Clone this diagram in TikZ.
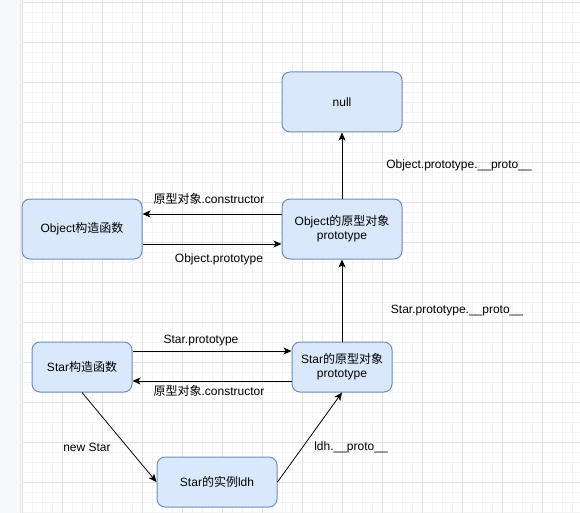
\documentclass[tikz,border=0pt]{standalone}
\usepackage{fontspec}
\setmainfont{Liberation Sans}
\newfontfamily\cjk{Noto Sans CJK SC}
\usetikzlibrary{arrows.meta}
\definecolor{boxfill}{HTML}{DAE8FC}
\definecolor{boxline}{HTML}{6C8EBF}
\definecolor{gridmin}{HTML}{F3F3F3}
\definecolor{gridmaj}{HTML}{E2E2E2}
\definecolor{strip}{HTML}{F7F8FA}
\definecolor{stripline}{HTML}{E6E7E9}
\begin{document}
\begin{tikzpicture}[x=1pt,y=-1pt,
  box/.style={draw=boxline,fill=boxfill,rounded corners=8pt,line width=1pt,inner sep=0pt,align=center,font=\fontsize{12pt}{14pt}\selectfont},
  lbl/.style={font=\fontsize{12pt}{14pt}\selectfont,inner sep=0pt},
  conn/.style={line width=1pt,-{Stealth[length=8pt,width=7pt,inset=2pt]}}]
\useasboundingbox (0,0) rectangle (580,513);
\fill[white] (0,0) rectangle (580,513);
\fill[strip] (0,0) rectangle (20,513);
\draw[stripline,line width=1.5pt] (20.5,0) -- (20.5,513);
\foreach \x in {22,32,...,572} \draw[gridmin,line width=0.8pt] (\x,0) -- (\x,513);
\foreach \y in {2,12,...,512} \draw[gridmin,line width=0.8pt] (21.5,\y) -- (580,\y);
\foreach \x in {22,62,...,572} \draw[gridmaj,line width=0.9pt] (\x,0) -- (\x,513);
\foreach \y in {2,42,...,512} \draw[gridmaj,line width=0.9pt] (21.5,\y) -- (580,\y);

\node[box,minimum width=120pt,minimum height=60pt] (null) at (342,102) {null};
\node[box,minimum width=120pt,minimum height=60pt] (objproto) at (342,229) {Object{\cjk 的原型对象}\\prototype};
\node[box,minimum width=120pt,minimum height=60pt] (objctor) at (82,229) {Object{\cjk 构造函数}};
\node[box,minimum width=100pt,minimum height=50pt] (starctor) at (82,367) {Star{\cjk 构造函数}};
\node[box,minimum width=100pt,minimum height=50pt] (starproto) at (342,367) {Star{\cjk 的原型对象}\\prototype};
\node[box,minimum width=120pt,minimum height=50pt] (inst) at (217,482) {Star{\cjk 的实例}ldh};

\draw[conn] (objproto.north) -- (null.south);
\draw[conn] ([yshift=15pt]objproto.west) -- ([yshift=15pt]objctor.east);
\draw[conn] ([yshift=-15pt]objctor.east) -- ([yshift=-15pt]objproto.west);
\draw[conn] (starproto.north) -- (objproto.south);
\draw[conn] ([yshift=16pt]starctor.east) -- ([yshift=16pt]starproto.west);
\draw[conn] ([yshift=-14pt]starproto.west) -- ([yshift=-14pt]starctor.east);
\draw[conn,line width=0.8pt] (starctor.south) -- (inst.west);
\draw[conn,line width=0.8pt] (inst.east) -- (starproto.south);

\node[lbl] (l1) at (209,199) {{\cjk 原型对象}.constructor};
\node[lbl] (l2) at (219,259) {Object.prototype};
\node[lbl] (l3) at (459,165) {Object.prototype.\_\_proto\_\_};
\node[lbl] (l4) at (457,310.5) {Star.prototype.\_\_proto\_\_};
\node[lbl] (l5) at (201,341) {Star.prototype};
\node[lbl] (l6) at (209,390.5) {{\cjk 原型对象}.constructor};
\node[lbl] (l7) at (87,447) {new Star};
\node[lbl] (l8) at (351,447) {ldh.\_\_proto\_\_};
\end{tikzpicture}
\end{document}
